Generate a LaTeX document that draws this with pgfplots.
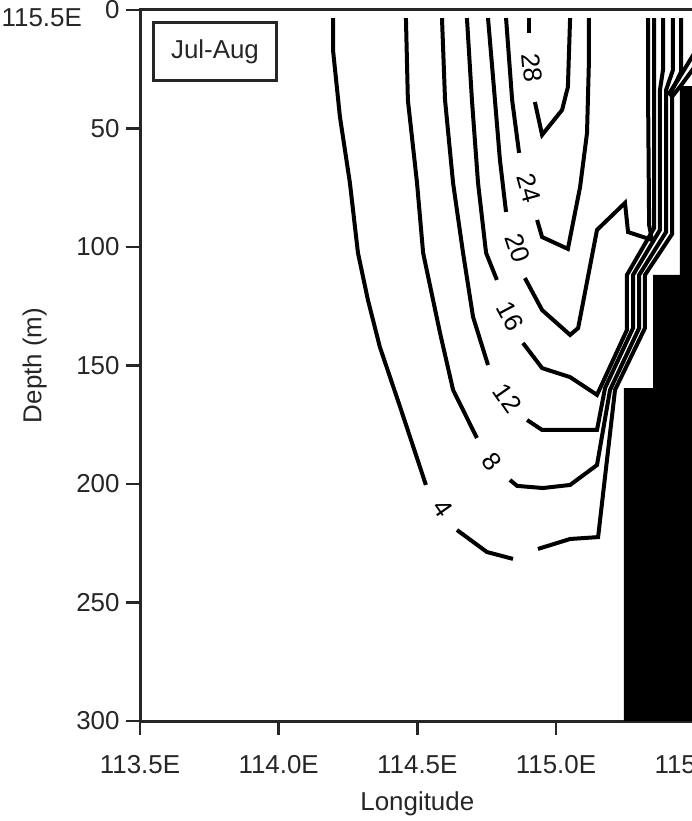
\documentclass[border=0pt]{standalone}
\usepackage{fontspec}
\setmainfont{Liberation Sans}
\usepackage{pgfplots}
\pgfplotsset{compat=1.18}
\definecolor{axgray}{HTML}{262626}
\begin{document}
\begin{tikzpicture}[x=1bp,y=1bp]
\path[use as bounding box] (0,0) rectangle (692,821);
\clip (0,0) rectangle (692,821);
\begin{axis}[
  at={(140bp,100bp)}, anchor=south west,
  scale only axis, width=554.6bp, height=711bp,
  xmin=113.5, xmax=115.5, ymin=0, ymax=300, y dir=reverse,
  xtick={113.5,114,114.5,115,115.5},
  xticklabels={113.5E,114.0E,114.5E,115.0E,115.5E},
  ytick={0,50,100,150,200,250,300},
  xtick pos=bottom, ytick pos=left,
  tick align=outside, major tick length=14bp,
  tick style={line width=2.5bp, color=axgray},
  axis line style={line width=3bp, color=axgray},
  /pgf/number format/assume math mode=true,
  ticklabel style={font=\fontsize{26}{31}\selectfont, text=axgray},
  xticklabel style={yshift=-17bp},
  yticklabel style={xshift=-3bp},
  label style={font=\fontsize{26}{31}\selectfont, text=axgray},
  xlabel={Longitude}, ylabel={Depth (m)},
  xlabel style={at={(axis description cs:0.5,0)}, anchor=north, inner sep=0pt, yshift=-71bp},
  ylabel style={at={(axis description cs:-0.190,0.5)}, anchor=center},
  cl/.style={black, solid, line width=4bp, mark=none, line join=miter},
]
% bathymetry
\addplot[fill=black, draw=none] coordinates {(115.245,300) (115.245,159.5) (115.350,159.5) (115.350,111.8) (115.447,111.8) (115.447,32.1) (115.6,32.1) (115.6,300)} -- cycle;
% contour 4
\addplot[cl] coordinates {(114.196,3.4) (114.196,16.9) (114.221,45.1) (114.257,73.0) (114.286,102.5) (114.322,122.4) (114.365,142.2) (114.438,167.5) (114.531,200.4)};
\addplot[cl] coordinates {(114.643,219.4) (114.751,228.7) (114.845,231.6)};
\addplot[cl] coordinates {(114.935,227.4) (115.051,223.2) (115.152,222.4) (115.213,160.3) (115.321,134.2) (115.321,111.8) (115.419,94.5) (115.419,33.8) (115.451,26.2) (115.451,3.4)};
% contour 8
\addplot[cl] coordinates {(114.459,3.4) (114.466,38.0) (114.499,73.0) (114.521,102.5) (114.582,136.3) (114.629,160.3) (114.715,180.6)};
\addplot[cl] coordinates {(114.834,198.3) (114.860,200.8) (114.953,201.7) (115.051,200.4) (115.148,192.0) (115.195,160.3) (115.300,134.2) (115.300,111.8) (115.397,93.7) (115.397,33.8) (115.422,25.3) (115.422,3.4)};
% contour 12
\addplot[cl] coordinates {(114.589,3.4) (114.600,38.0) (114.629,73.0) (114.665,102.5) (114.701,129.5) (114.755,149.8)};
\addplot[cl] coordinates {(114.896,173.0) (114.950,177.2) (115.148,177.2) (115.177,159.5) (115.278,134.2) (115.278,111.8) (115.375,92.8) (115.375,33.8) (115.386,25.3) (115.386,3.4)};
% contour 16
\addplot[cl] coordinates {(114.679,3.4) (114.697,38.0) (114.719,73.0) (114.748,102.5) (114.787,113.9)};
\addplot[cl] coordinates {(114.881,140.5) (114.950,151.1) (115.051,154.9) (115.148,162.4) (115.256,135.0) (115.256,111.8) (115.354,92.0) (115.354,3.4)};
% contour 20
\addplot[cl] coordinates {(114.755,3.4) (114.780,38.0) (114.798,63.3) (114.820,85.2)};
\addplot[cl] coordinates {(114.888,113.1) (114.950,126.6) (115.051,137.1) (115.080,134.2) (115.134,101.3) (115.148,92.8) (115.249,81.4) (115.260,93.7) (115.346,97.0) (115.336,90.7) (115.332,33.8) (115.332,3.4)};
% contour 24
\addplot[cl] coordinates {(114.820,3.4) (114.842,38.0) (114.867,60.3)};
\addplot[cl] coordinates {(114.932,88.6) (114.950,95.8) (115.043,100.8) (115.087,74.7) (115.112,51.9) (115.119,21.1) (115.119,3.4)};
% contour 28
\addplot[cl] coordinates {(114.903,3.4) (114.903,9.7)};
\addplot[cl] coordinates {(114.924,38.8) (114.950,52.7) (115.022,42.2) (115.043,32.5) (115.051,3.4)};
% lines over the shelf
\addplot[cl] coordinates {(115.404,35.9) (115.440,29.5) (115.50,18.0)};
\addplot[cl] coordinates {(115.415,37.1) (115.455,31.2) (115.50,24.0)};
% contour labels
\begin{scope}[every node/.style={font=\fontsize{26}{31}\selectfont, text=black, inner sep=0pt}]
\node[rotate=-85] at (axis cs:114.914,24.5) {28};
\node[rotate=-75] at (axis cs:114.904,75.1) {24};
\node[rotate=-72] at (axis cs:114.862,100.4) {20};
\node[rotate=-62] at (axis cs:114.836,129.1) {16};
\node[rotate=-55] at (axis cs:114.825,163.7) {12};
\node[rotate=-52] at (axis cs:114.769,190.7) {8};
\node[rotate=-55] at (axis cs:114.593,210.1) {4};
\end{scope}
\end{axis}
\node[draw=axgray, line width=3bp, minimum width=123bp, minimum height=58bp, font=\fontsize{26}{31}\selectfont, text=axgray] at (215,769) {Jul-Aug};
\node[anchor=base east, font=\fontsize{26}{31}\selectfont, text=axgray, inner sep=0pt] at (82,794) {115.5E};
\end{tikzpicture}
\end{document}
